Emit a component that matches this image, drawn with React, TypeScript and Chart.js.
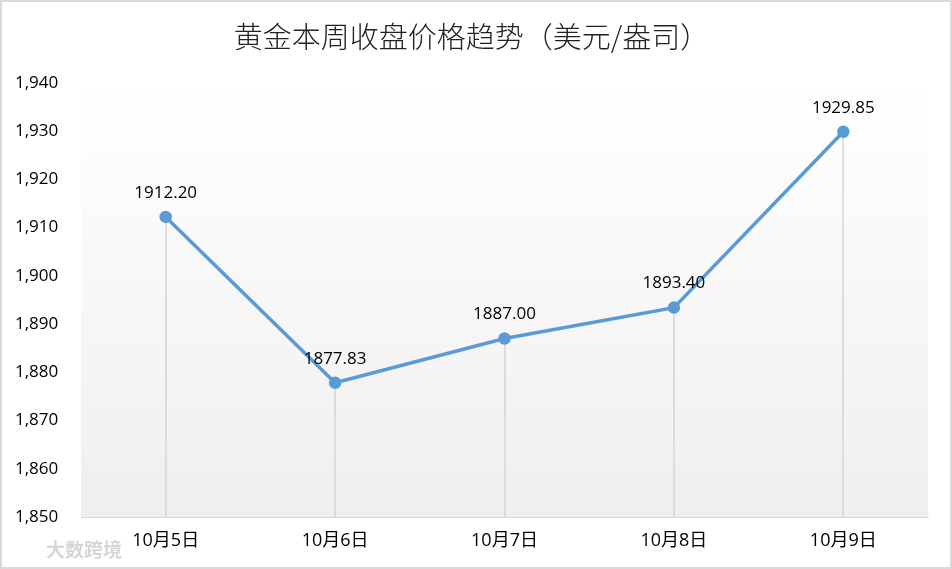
import React, { useEffect, useRef } from "react";
import { Chart, registerables } from "chart.js";

Chart.register(...registerables);

const TITLE = "黄金本周收盘价格趋势（美元/盎司）";
const CATEGORIES = ["10月5日", "10月6日", "10月7日", "10月8日", "10月9日"];
const PRICES = [1912.2, 1877.83, 1887.0, 1893.4, 1929.85];
const Y_MIN = 1850;
const Y_MAX = 1940;
const Y_STEP = 10;
const WATERMARK = "大数跨境";

const LINE_COLOR = "#5b9bd5";
const GRID_COLOR = "#d9d9d9";
const TEXT_COLOR = "#000000";
const FONT = "'Open Sans', 'Noto Sans CJK SC', sans-serif";

const decorPlugin = {
  id: "decor",
  beforeDraw(chart: any) {
    const { ctx, chartArea } = chart;
    ctx.save();
    ctx.fillStyle = "#ffffff";
    ctx.fillRect(0, 0, chart.width, chart.height);
    const g = ctx.createLinearGradient(0, chartArea.top, 0, chartArea.bottom);
    g.addColorStop(0, "#ffffff");
    g.addColorStop(1, "#efefef");
    ctx.fillStyle = g;
    ctx.fillRect(chartArea.left, chartArea.top, chartArea.right - chartArea.left, chartArea.bottom - chartArea.top);
    ctx.restore();
  },
  beforeDatasetsDraw(chart: any) {
    const { ctx, chartArea } = chart;
    const meta = chart.getDatasetMeta(0);
    ctx.save();
    ctx.strokeStyle = "#d4d4d4";
    ctx.lineWidth = 1.5;
    meta.data.forEach((pt: any) => {
      const x = Math.round(pt.x);
      ctx.beginPath();
      ctx.moveTo(x, pt.y);
      ctx.lineTo(x, chartArea.bottom);
      ctx.stroke();
    });
    ctx.restore();
  },
  afterDatasetsDraw(chart: any) {
    const { ctx } = chart;
    const meta = chart.getDatasetMeta(0);
    const data = chart.data.datasets[0].data as number[];
    ctx.save();
    ctx.fillStyle = TEXT_COLOR;
    ctx.font = "17px " + FONT;
    ctx.textAlign = "center";
    ctx.textBaseline = "middle";
    meta.data.forEach((pt: any, i: number) => {
      ctx.fillText(data[i].toFixed(2), pt.x, pt.y - 24);
    });
    ctx.restore();
  },
  afterDraw(chart: any) {
    const { ctx } = chart;
    ctx.save();
    ctx.fillStyle = "#d6d6d6";
    ctx.font = "bold 19px 'Noto Sans CJK SC', sans-serif";
    ctx.textAlign = "left";
    ctx.textBaseline = "middle";
    ctx.fillText(WATERMARK, 46, 550);
    ctx.strokeStyle = GRID_COLOR;
    ctx.lineWidth = 2;
    ctx.strokeRect(1, 1, chart.width - 2, chart.height - 2);
    ctx.restore();
  },
};

export default function App() {
  const ref = useRef<HTMLCanvasElement>(null);
  useEffect(() => {
    if (!ref.current) return;
    const chart = new Chart(ref.current, {
      type: "line",
      data: {
        labels: CATEGORIES,
        datasets: [
          {
            data: PRICES,
            borderColor: LINE_COLOR,
            backgroundColor: LINE_COLOR,
            borderWidth: 3.5,
            pointRadius: 4.5,
            pointBackgroundColor: LINE_COLOR,
            pointBorderColor: LINE_COLOR,
            tension: 0,
          },
        ],
      },
      options: {
        responsive: false,
        animation: false,
        layout: { padding: { left: 15, right: 24, top: 0, bottom: 0 } },
        plugins: {
          legend: { display: false },
          tooltip: { enabled: false },
          title: {
            display: true,
            text: TITLE,
            color: "#222222",
            font: { size: 29, family: "'Noto Sans CJK SC', sans-serif", weight: "300" as any, lineHeight: 1.2 },
            padding: { top: 20, bottom: 28 },
          },
        },
        scales: {
          x: {
            offset: true,
            grid: { display: false, drawTicks: false },
            border: { display: true, color: GRID_COLOR, width: 1 },
            ticks: { color: TEXT_COLOR, font: { size: 18, family: FONT }, padding: 13, maxRotation: 0 },
            afterFit(scale: any) {
              scale.height = 52;
            },
          },
          y: {
            min: Y_MIN,
            max: Y_MAX,
            grid: { display: false, drawTicks: false },
            border: { display: false },
            ticks: {
              stepSize: Y_STEP,
              color: TEXT_COLOR,
              font: { size: 17, family: FONT },
              crossAlign: "far",
              callback: (v: any) => Number(v).toLocaleString("en-US"),
            },
            afterFit(scale: any) {
              scale.width = 66;
            },
          },
        },
      },
      plugins: [decorPlugin],
    });
    return () => chart.destroy();
  }, []);
  return (
    <div style={{ position: "fixed", left: 0, top: 0, width: 952, height: 569 }}>
      <canvas ref={ref} width={952} height={569} style={{ display: "block", width: 952, height: 569 }} />
    </div>
  );
}
